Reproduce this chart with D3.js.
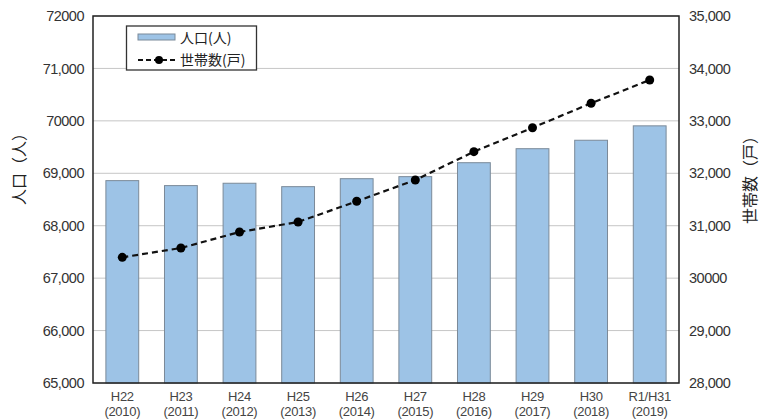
<!DOCTYPE html>
<html>
<head>
<meta charset="utf-8">
<script src="https://cdn.jsdelivr.net/npm/d3@7"></script>
<style>
    body { margin: 0; background: #fff; }
    .tick-label { font-family: "Liberation Sans", Arial, sans-serif; font-size: 14.5px; fill: #333; letter-spacing: -0.5px; }
    .cat-label { font-family: "Liberation Sans", Arial, sans-serif; font-size: 13px; fill: #444; letter-spacing: -0.3px; }
    .jp { font-family: "Noto Sans CJK JP", sans-serif; fill: #222; }
</style>
</head>
<body>
<svg class="chart"></svg>
<script>
// Categories (two-line labels)
var yearsJp = ["H22", "H23", "H24", "H25", "H26", "H27", "H28", "H29", "H30", "R1/H31"];
var yearsAd = ["(2010)", "(2011)", "(2012)", "(2013)", "(2014)", "(2015)", "(2016)", "(2017)", "(2018)", "(2019)"];

// Population (bars, left axis) and households (line, right axis)
var population = [68860, 68765, 68810, 68745, 68897, 68936, 69202, 69469, 69630, 69905];
var households = [30397, 30575, 30880, 31071, 31466, 31872, 32412, 32869, 33335, 33779];

// Tick values and labels as printed
var leftTicks = [65000, 66000, 67000, 68000, 69000, 70000, 71000, 72000];
var leftTickLabels = ["65,000", "66,000", "67,000", "68,000", "69,000", "70000", "71,000", "72000"];
var rightTicks = [28000, 29000, 30000, 31000, 32000, 33000, 34000, 35000];
var rightTickLabels = ["28,000", "29,000", "30000", "31,000", "32,000", "33,000", "34,000", "35,000"];

function renderChart() {
    var width = 762, height = 419;
    var margin = { top: 16, right: 83, bottom: 36, left: 93 };

    var chart = d3.select('.chart')
        .attr('width', width)
        .attr('height', height);

    var xScale = d3.scaleBand()
        .domain(yearsJp)
        .range([margin.left, width - margin.right])
        .paddingInner(0.44)
        .paddingOuter(0.22);

    var yLeft = d3.scaleLinear()
        .domain([65000, 72000])
        .range([height - margin.bottom, margin.top]);

    var yRight = d3.scaleLinear()
        .domain([28000, 35000])
        .range([height - margin.bottom, margin.top]);

    // Gridlines
    chart.append('g')
        .selectAll('line')
        .data(leftTicks)
        .enter()
        .append('line')
        .attr('x1', margin.left)
        .attr('x2', width - margin.right)
        .attr('y1', function(d) { return yLeft(d); })
        .attr('y2', function(d) { return yLeft(d); })
        .attr('stroke', '#c6c6c6')
        .attr('stroke-width', 1);

    // Bars for population
    chart.append('g')
        .selectAll('rect')
        .data(population)
        .enter()
        .append('rect')
        .attr('x', function(d, i) { return xScale(yearsJp[i]); })
        .attr('width', xScale.bandwidth())
        .attr('y', function(d) { return yLeft(d); })
        .attr('height', function(d) { return yLeft(65000) - yLeft(d); })
        .attr('fill', '#9dc3e6')
        .attr('stroke', '#7b8a99')
        .attr('stroke-width', 1);

    // Frame
    chart.append('rect')
        .attr('x', margin.left)
        .attr('y', margin.top)
        .attr('width', width - margin.left - margin.right)
        .attr('height', height - margin.top - margin.bottom)
        .attr('fill', 'none')
        .attr('stroke', '#222')
        .attr('stroke-width', 1.5);

    // Households line
    var line = d3.line()
        .x(function(d, i) { return xScale(yearsJp[i]) + xScale.bandwidth() / 2; })
        .y(function(d) { return yRight(d); });

    chart.append('path')
        .datum(households)
        .attr('d', line)
        .attr('fill', 'none')
        .attr('stroke', '#111')
        .attr('stroke-width', 2.2)
        .attr('stroke-dasharray', '6,4');

    chart.append('g')
        .selectAll('circle')
        .data(households)
        .enter()
        .append('circle')
        .attr('cx', function(d, i) { return xScale(yearsJp[i]) + xScale.bandwidth() / 2; })
        .attr('cy', function(d) { return yRight(d); })
        .attr('r', 4.5)
        .attr('fill', '#000');

    // Left axis labels
    var leftAxis = d3.axisLeft(yLeft)
        .tickValues(leftTicks)
        .tickSize(0)
        .tickPadding(9)
        .tickFormat(function(d, i) { return leftTickLabels[i]; });
    var gl = chart.append('g')
        .attr('transform', 'translate(' + margin.left + ',0)')
        .call(leftAxis);
    gl.select('.domain').remove();
    gl.selectAll('text').attr('class', 'tick-label').attr('fill', null);

    // Right axis labels
    var rightAxis = d3.axisRight(yRight)
        .tickValues(rightTicks)
        .tickSize(0)
        .tickPadding(10)
        .tickFormat(function(d, i) { return rightTickLabels[i]; });
    var gr = chart.append('g')
        .attr('transform', 'translate(' + (width - margin.right) + ',0)')
        .call(rightAxis);
    gr.select('.domain').remove();
    gr.selectAll('text').attr('class', 'tick-label').attr('fill', null);

    // Category labels (two lines, separate texts)
    var xAxis = d3.axisBottom(xScale).tickSize(0).tickFormat('');
    var gx = chart.append('g')
        .attr('transform', 'translate(0,' + (height - margin.bottom) + ')')
        .call(xAxis);
    gx.select('.domain').remove();
    gx.selectAll('.tick').each(function(d, i) {
        var tick = d3.select(this);
        tick.append('text')
            .attr('class', 'cat-label')
            .attr('text-anchor', 'middle')
            .attr('y', 17.5)
            .text(yearsJp[i]);
        tick.append('text')
            .attr('class', 'cat-label')
            .attr('text-anchor', 'middle')
            .attr('y', 32.5)
            .text(yearsAd[i]);
    });

    // Axis titles
    chart.append('text')
        .attr('class', 'jp')
        .attr('transform', 'translate(25,165) rotate(-90)')
        .attr('text-anchor', 'middle')
        .attr('font-size', 16)
        .text('人口（人）');

    chart.append('text')
        .attr('class', 'jp')
        .attr('transform', 'translate(756,176) rotate(-90)')
        .attr('text-anchor', 'middle')
        .attr('font-size', 16)
        .text('世帯数（戸）');

    // Legend
    var legend = chart.append('g');
    legend.append('rect')
        .attr('x', 126.5).attr('y', 26)
        .attr('width', 130).attr('height', 44)
        .attr('fill', '#fff')
        .attr('stroke', '#333')
        .attr('stroke-width', 1.3);
    legend.append('rect')
        .attr('x', 138).attr('y', 34)
        .attr('width', 37).attr('height', 6)
        .attr('fill', '#9dc3e6')
        .attr('stroke', '#7b8a99');
    legend.append('text')
        .attr('class', 'jp')
        .attr('x', 180).attr('y', 42.5)
        .attr('font-size', 14)
        .text('人口(人)');
    legend.append('line')
        .attr('x1', 138).attr('x2', 176)
        .attr('y1', 60).attr('y2', 60)
        .attr('stroke', '#111')
        .attr('stroke-width', 2.2)
        .attr('stroke-dasharray', '5,3');
    legend.append('circle')
        .attr('cx', 159).attr('cy', 60).attr('r', 4)
        .attr('fill', '#000');
    legend.append('text')
        .attr('class', 'jp')
        .attr('x', 180).attr('y', 65)
        .attr('font-size', 14)
        .text('世帯数(戸)');
}

window.onload = renderChart;
</script>
</body>
</html>
